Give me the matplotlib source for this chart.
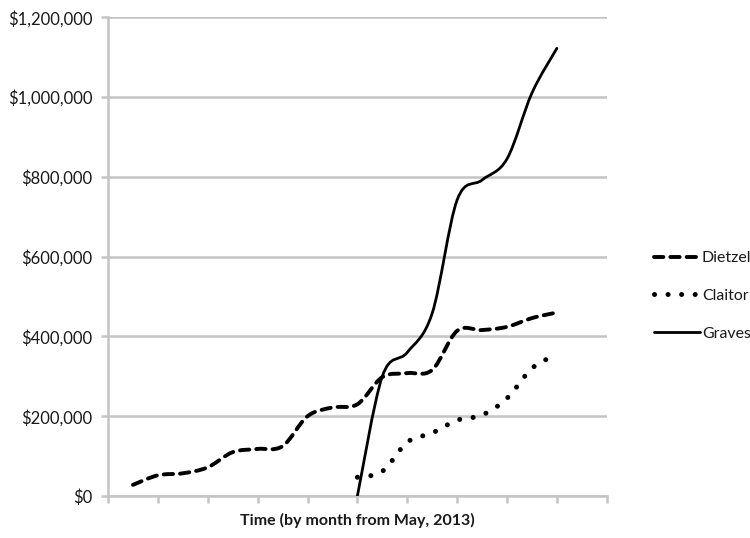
import numpy as np
import matplotlib
matplotlib.use("Agg")
import matplotlib.pyplot as plt
from matplotlib.path import Path
from matplotlib.patches import PathPatch
from matplotlib.lines import Line2D
from matplotlib.ticker import FuncFormatter

# month index (1 = May 2013)
months_dietzel = list(range(1, 19))
dietzel = [28000, 52000, 57000, 72000, 110000, 118000, 125000, 200000, 222000,
           230000, 298000, 308000, 316000, 414000, 416000, 424000, 446000, 460000]

months_late = list(range(10, 19))
claitor = [47000, 62000, 135000, 158000, 190000, 203000, 245000, 320000, 355000]
graves = [0, 300000, 360000, 458000, 742000, 792000, 845000, 1010000, 1122000]

series_names = ["Dietzel", "Claitor", "Graves"]

plt.rcParams['font.family'] = ['Lato', 'DejaVu Sans']


def smooth_path(xs, ys):
    # Excel-style smoothed line: cubic Bezier through every point (Catmull-Rom)
    p = np.column_stack([xs, ys]).astype(float)
    verts = [p[0]]
    codes = [Path.MOVETO]
    n = len(p)
    for i in range(n - 1):
        p0 = p[i - 1] if i > 0 else p[i]
        p1 = p[i]
        p2 = p[i + 1]
        p3 = p[i + 2] if i + 2 < n else p[i + 1]
        c1 = p1 + (p2 - p0) / 6.0
        c2 = p2 - (p3 - p1) / 6.0
        verts += [c1, c2, p2]
        codes += [Path.CURVE4] * 3
    return Path(verts, codes)


styles = {
    "Dietzel": dict(linestyle=(0, (2.4, 1.8)), linewidth=2.8),
    "Claitor": dict(linestyle=(0, (0.01, 2.7)), linewidth=3.6),
    "Graves": dict(linestyle='-', linewidth=2.0),
}

fig = plt.figure(figsize=(7.5, 5.38), dpi=100)
ax = fig.add_axes([0.144, 0.078, 0.665, 0.89])

for name, xs, ys in [("Dietzel", months_dietzel, dietzel),
                     ("Claitor", months_late, claitor),
                     ("Graves", months_late, graves)]:
    st = styles[name]
    patch = PathPatch(smooth_path(xs, ys), fill=False, edgecolor='black',
                      linewidth=st['linewidth'], linestyle=st['linestyle'],
                      capstyle='round', joinstyle='round', zorder=3)
    ax.add_patch(patch)

ax.set_xlim(0, 20)
ax.set_ylim(0, 1200000)
ax.set_xticks(np.arange(0, 21, 2))
ax.set_xticklabels([])
ax.set_yticks(np.arange(0, 1200001, 200000))
ax.yaxis.set_major_formatter(FuncFormatter(lambda v, _: "${:,.0f}".format(v)))

grid_col = '#c4c4c4'
ax.grid(axis='y', color=grid_col, linewidth=1.8, zorder=0)
ax.set_axisbelow(True)
for s in ['top', 'right']:
    ax.spines[s].set_visible(False)
for s in ['left', 'bottom']:
    ax.spines[s].set_color(grid_col)
    ax.spines[s].set_linewidth(1.8)
ax.tick_params(axis='both', color=grid_col, width=1.8, length=5, direction='out')
ax.tick_params(axis='y', labelsize=12, labelcolor='#1a1a1a', pad=6)

ax.set_xlabel("Time (by month from May, 2013)", fontsize=11.5, fontweight='bold',
              color='#1a1a1a', labelpad=4)

handles = [Line2D([0], [0], color='black', linewidth=styles[n]['linewidth'],
                  linestyle=styles[n]['linestyle'], solid_capstyle='round',
                  dash_capstyle='round') for n in series_names]
fig.legend(handles, series_names, loc='center left', bbox_to_anchor=(0.862, 0.45),
           frameon=False, fontsize=11.4, handlelength=2.9, handletextpad=0.1,
           labelspacing=1.5, borderpad=0, labelcolor='#1a1a1a')

fig.savefig("out.png", dpi=100)
